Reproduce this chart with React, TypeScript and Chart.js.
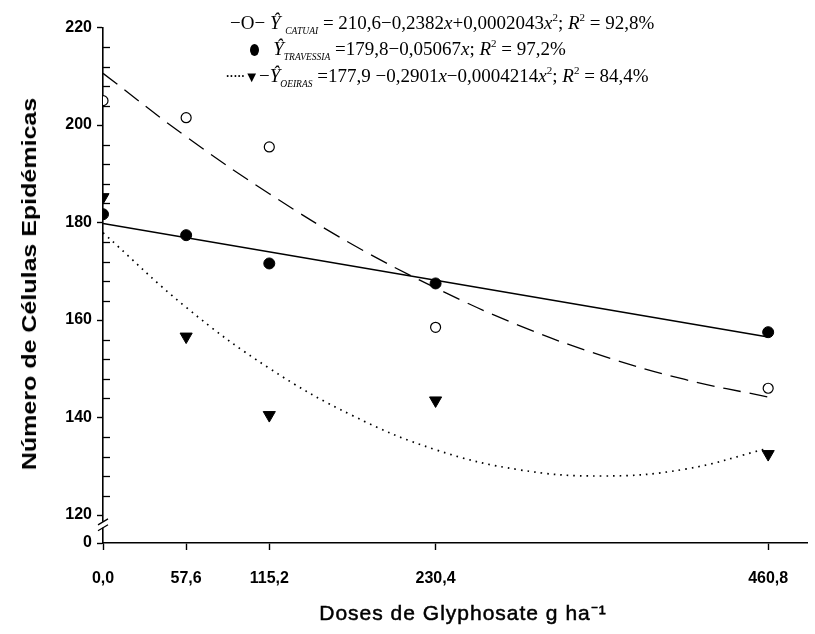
import React, { useEffect, useRef } from "react";
import { Chart, registerables } from "chart.js";
Chart.register(...registerables);

// Observed means
const doses = [0, 57.6, 115.2, 230.4, 460.8];
const catuaiObs = [205, 201.5, 195.5, 158.5, 146];
const travessiaObs = [181.7, 177.4, 171.6, 167.5, 157.5];
const oeirasObs = [185.2, 156.6, 140.5, 143.5, 132.5];

// Fitted curves
const curveX = [0, 57.6, 115.2, 172.8, 230.4, 288, 345.6, 403.2, 460.8];
const catuaiCurve = [210.6, 197.6, 185.9, 175.5, 166.6, 158.9, 152.7, 147.8, 144.2];
const oeirasCurve = [177.9, 162.6, 150.1, 140.4, 133.4, 129.3, 128.0, 129.4, 133.7];
const travessiaLineX = [0, 460.8];
const travessiaLine = [179.8, 156.5];

// Axes
const xTicks = [0, 57.6, 115.2, 230.4, 460.8];
const xTickLabels = ["0,0", "57,6", "115,2", "230,4", "460,8"];
const xMax = 487.7;
const yMajorTicks = [120, 140, 160, 180, 200, 220];
const yMinorStep = 4;
const yBottomValue = 114.26; // position of the "0" tick below the axis break
const yBottomLabel = "0";
const yBreakTop = 118.6;
const yBreakBottom = 117.4;

const xTitle = "Doses de Glyphosate g ha⁻¹";
const yTitle = "Número de Células Epidémicas";

const sans = '"Liberation Sans", Arial, sans-serif';
const serif = '"Liberation Serif", "Times New Roman", serif';

const pts = (xs: number[], ys: number[]) => xs.map((x, i) => ({ x, y: ys[i] }));

const axisDecor = {
  id: "axisDecor",
  afterDraw(chart: any) {
    const { ctx } = chart;
    const x = chart.scales.x;
    const y = chart.scales.y;
    const left = x.getPixelForValue(0);
    ctx.save();
    ctx.strokeStyle = "#000";
    ctx.lineWidth = 1.3;
    for (let v = 120 + yMinorStep; v < 220; v += yMinorStep) {
      if (v % 20 === 0) continue;
      const py = Math.round(y.getPixelForValue(v)) + 0.5;
      ctx.beginPath();
      ctx.moveTo(left, py);
      ctx.lineTo(left + 7, py);
      ctx.stroke();
    }
    const pTop = y.getPixelForValue(yBreakTop);
    const pBot = y.getPixelForValue(yBreakBottom);
    ctx.fillStyle = "#fff";
    ctx.fillRect(left - 3, pTop, 6, pBot - pTop);
    ctx.beginPath();
    ctx.moveTo(left - 5, pTop + 3);
    ctx.lineTo(left + 5, pTop - 3);
    ctx.moveTo(left - 5, pBot + 3);
    ctx.lineTo(left + 5, pBot - 3);
    ctx.stroke();
    ctx.restore();
  },
};

export default function App() {
  const ref = useRef<HTMLCanvasElement | null>(null);
  useEffect(() => {
    if (!ref.current) return;
    const tickFont = { family: sans, size: 16, weight: "bold" as const };
    const chart = new Chart(ref.current, {
      type: "scatter",
      data: {
        datasets: [
          {
            data: pts(curveX, catuaiCurve),
            showLine: true,
            borderColor: "#000",
            borderWidth: 1.3,
            borderDash: [18, 9],
            pointRadius: 0,
            tension: 0.4,
          },
          {
            data: pts(travessiaLineX, travessiaLine),
            showLine: true,
            borderColor: "#000",
            borderWidth: 1.6,
            pointRadius: 0,
          },
          {
            data: pts(curveX, oeirasCurve),
            showLine: true,
            borderColor: "#000",
            borderWidth: 1.7,
            borderDash: [1.6, 5],
            pointRadius: 0,
            tension: 0.4,
          },
          {
            data: pts(doses, catuaiObs),
            pointStyle: "circle",
            pointRadius: 5,
            backgroundColor: "#fff",
            borderColor: "#000",
            borderWidth: 1.2,
          },
          {
            data: pts(doses, travessiaObs),
            pointStyle: "circle",
            pointRadius: 5.5,
            backgroundColor: "#000",
            borderColor: "#000",
            borderWidth: 1,
          },
          {
            data: pts(doses, oeirasObs),
            pointStyle: "triangle",
            rotation: 180,
            pointRadius: 7,
            backgroundColor: "#000",
            borderColor: "#000",
            borderWidth: 1,
          },
        ],
      },
      options: {
        animation: false,
        responsive: false,
        layout: { padding: { top: 27.5, right: 5, left: 0, bottom: 0 } },
        plugins: { legend: { display: false }, tooltip: { enabled: false } },
        scales: {
          x: {
            type: "linear",
            min: 0,
            max: xMax,
            afterBuildTicks: (s: any) => {
              s.ticks = xTicks.map((v) => ({ value: v }));
            },
            afterFit: (s: any) => {
              s.height = 91;
            },
            ticks: {
              autoSkip: false,
              maxRotation: 0,
              padding: 19,
              color: "#000",
              font: tickFont,
              callback: (v: any) => {
                const i = xTicks.indexOf(Number(v));
                return i >= 0 ? xTickLabels[i] : "";
              },
            },
            grid: {
              display: true,
              drawOnChartArea: false,
              drawTicks: true,
              tickLength: 7,
              tickColor: "#000",
              tickWidth: 1.4,
            },
            border: { display: true, color: "#000", width: 1.6 },
            title: { display: false },
          },
          y: {
            type: "linear",
            min: yBottomValue,
            max: 220,
            afterBuildTicks: (s: any) => {
              s.ticks = [yBottomValue, ...yMajorTicks].map((v) => ({ value: v }));
            },
            afterFit: (s: any) => {
              s.width = 103;
            },
            ticks: {
              autoSkip: false,
              padding: 5,
              color: "#000",
              font: tickFont,
              callback: (v: any) => (Number(v) === yBottomValue ? yBottomLabel : String(v)),
            },
            grid: {
              display: true,
              drawOnChartArea: false,
              drawTicks: true,
              tickLength: 6,
              tickColor: "#000",
              tickWidth: 1.4,
            },
            border: { display: true, color: "#000", width: 1.6 },
            title: { display: false },
          },
        },
      },
      plugins: [axisDecor],
    });
    return () => chart.destroy();
  }, []);

  const row: React.CSSProperties = {
    position: "absolute",
    whiteSpace: "nowrap",
    font: `19px ${serif}`,
    color: "#000",
    lineHeight: "22px",
  };
  const sub: React.CSSProperties = {
    fontSize: 9.5,
    fontStyle: "italic",
    verticalAlign: -5,
  };
  const sup: React.CSSProperties = { fontSize: 11, verticalAlign: 8 };

  return (
    <div style={{ position: "fixed", left: 0, top: 0, width: 815, height: 634, background: "#fff" }}>
      <canvas ref={ref} width={815} height={634} />
      <div
        style={{
          position: "absolute",
          left: 29,
          top: 284,
          transform: "translate(-50%, -50%) rotate(-90deg) scaleX(1.25)",
          font: `bold 20px ${sans}`,
          whiteSpace: "nowrap",
          color: "#000",
          lineHeight: "22px",
        }}
      >
        {yTitle}
      </div>
      <div
        style={{
          position: "absolute",
          left: 463,
          top: 613,
          transform: "translate(-50%, -50%)",
          font: `21px ${sans}`,
          letterSpacing: 1,
          WebkitTextStroke: "0.5px #000",
          whiteSpace: "nowrap",
          color: "#000",
          lineHeight: "22px",
        }}
      >
        {xTitle}
      </div>
      <div style={{ ...row, left: 230, top: 6 }}>
        <span>−O−</span> <i>Ŷ</i>
        <span style={sub}>&nbsp;&nbsp;CATUAI</span> = 210,6−0,2382<i>x</i>+0,0002043<i>x</i>
        <span style={sup}>2</span>; <i>R</i>
        <span style={sup}>2</span> = 92,8%
      </div>
      <div style={{ ...row, left: 250, top: 32 }}>
        <span
          style={{
            display: "inline-block",
            width: 9,
            height: 12,
            borderRadius: "50%",
            background: "#000",
            verticalAlign: -1,
          }}
        />
        &nbsp;&nbsp;&nbsp;<i>Ŷ</i>
        <span style={sub}>TRAVESSIA</span> =179,8−0,05067<i>x</i>; <i>R</i>
        <span style={sup}>2</span> = 97,2%
      </div>
      <div style={{ ...row, left: 225, top: 59 }}>
        <span style={{ letterSpacing: -1.5, fontSize: 16 }}>·····</span>
        <span style={{ fontSize: 15 }}>▼</span>
        <span>−</span>
        <i>Ŷ</i>
        <span style={sub}>OEIRAS</span> =177,9 −0,2901<i>x</i>−0,0004214<i>x</i>
        <span style={sup}>2</span>; <i>R</i>
        <span style={sup}>2</span> = 84,4%
      </div>
    </div>
  );
}
